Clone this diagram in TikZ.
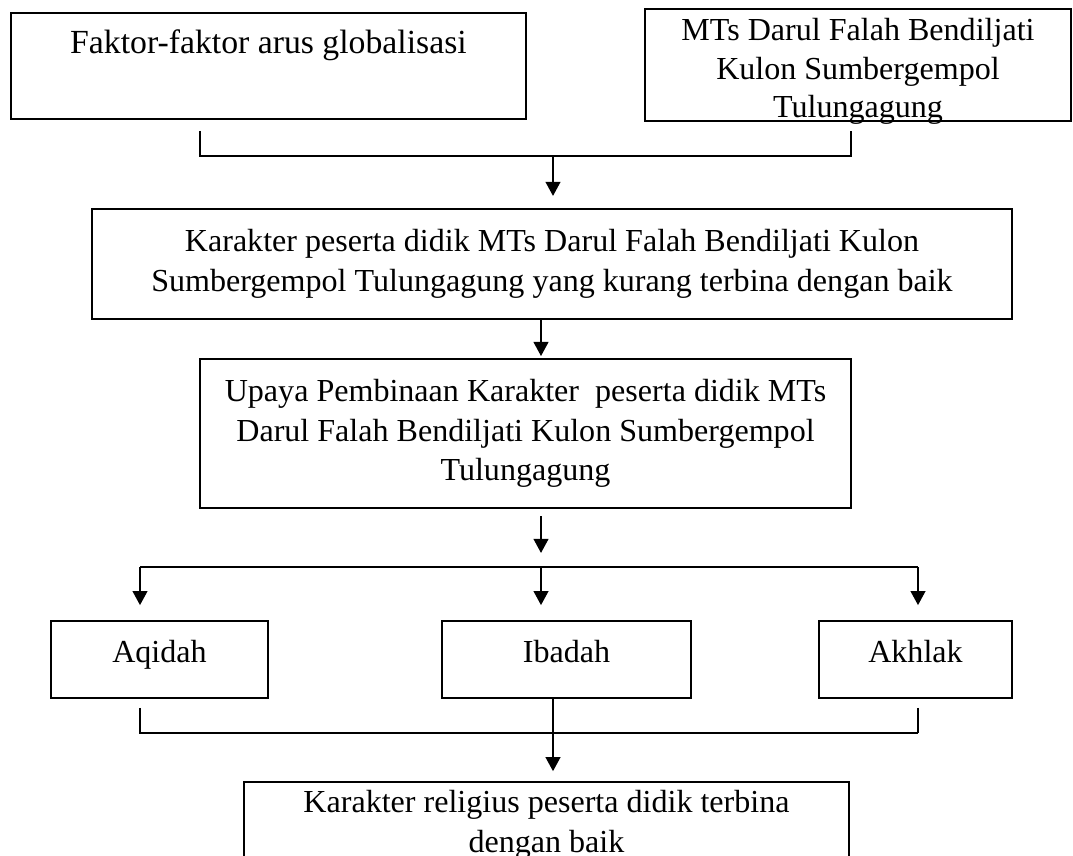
\documentclass[tikz,border=0pt]{standalone}
\usepackage{fontspec}
\setmainfont{Liberation Serif}
\usetikzlibrary{arrows.meta,positioning}

\tikzset{
  box/.style={draw, rectangle, line width=0.7pt, inner sep=0pt, align=center, font=\fontsize{11.4}{14}\selectfont},
  arr/.style={-{Triangle[width=5.3pt,length=5pt]}, line width=0.5pt},
  link/.style={line width=0.5pt}
}

\begin{document}
\begin{tikzpicture}[x=0.0125cm, y=-0.0125cm]
    \useasboundingbox (0,0) rectangle (1073,856);

    % top row
    \node (faktor) [box, font=\fontsize{12}{14}\selectfont, minimum width=6.4375cm, text height=0.5125cm, text depth=0.8125cm] at (268.5,66) {Faktor-faktor arus globalisasi};
    \node (mts) [box, minimum width=5.325cm, minimum height=1.4cm,
        label={[align=center, font=\fontsize{11.4}{13.7}\selectfont, yshift=-2.3pt]center:{MTs Darul Falah Bendiljati\\Kulon Sumbergempol\\Tulungagung}}] at (858,65) {};
    \node (kurang) [box, minimum width=11.5cm, minimum height=1.375cm] at (552,264) {Karakter peserta didik MTs Darul Falah Bendiljati Kulon\\Sumbergempol Tulungagung yang kurang terbina dengan baik};
    \node (upaya) [box, minimum width=8.1375cm, minimum height=1.8625cm] at (525.5,433.5) {Upaya Pembinaan Karakter~ peserta didik MTs\\Darul Falah Bendiljati Kulon Sumbergempol\\Tulungagung};

    % three aspects
    \node (aqidah) [box, minimum width=2.7125cm, text height=0.5125cm, text depth=0.45cm] at (159.5,659.5) {Aqidah};
    \node (ibadah) [box, minimum width=3.1125cm, text height=0.5125cm, text depth=0.45cm] at (566.5,659.5) {Ibadah};
    \node (akhlak) [box, minimum width=2.4125cm, text height=0.5125cm, text depth=0.45cm] at (915.5,659.5) {Akhlak};
    \node (hasil) [box, minimum width=7.5625cm, minimum height=1.075cm] at (546.5,825) {Karakter religius peserta didik terbina\\dengan baik};

    % joints
    \coordinate (ta) at (200,131);
    \coordinate (tb) at (851,131);
    \coordinate (tj) at (553,156);
    \coordinate (mj) at (541,567);
    \coordinate (ml) at (140,567);
    \coordinate (mr) at (918,567);
    \coordinate (bl) at (140,733);
    \coordinate (br) at (918,733);
    \coordinate (bj) at (553,733);

    \draw[link] (ta) |- (tj) -| (tb);
    \draw[arr, shorten >=4.3pt] (tj) -- (tj |- kurang.north);
    \draw[arr, shorten >=0.7pt] (kurang.south -| mj) -- (upaya.north -| mj);
    \draw[arr, shorten <=2.5pt, shorten >=5pt] (mj |- upaya.south) -- (mj);

    \draw[link] (ml) -- (mr);
    \draw[arr, shorten >=5.3pt] (ml) -- (ml |- aqidah.north);
    \draw[arr, shorten >=5.3pt] (mj) -- (mj |- ibadah.north);
    \draw[arr, shorten >=5.3pt] (mr) -- (mr |- akhlak.north);

    \draw[link, shorten <=3.2pt] (bl |- aqidah.south) -- (bl) -- (br);
    \draw[link, shorten <=3.2pt] (br |- akhlak.south) -- (br);
    \draw[link] (bj |- ibadah.south) -- (bj);
    \draw[arr, shorten >=3.5pt] (bj) -- (bj |- hasil.north);
\end{tikzpicture}
\end{document}
